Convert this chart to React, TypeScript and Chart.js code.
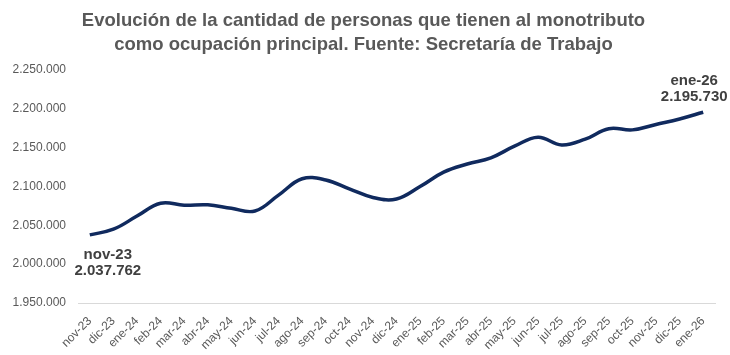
import React, { useEffect, useRef } from "react";
import { Chart, registerables } from "chart.js";

Chart.register(...registerables);

const categories = [
  "nov-23", "dic-23", "ene-24", "feb-24", "mar-24", "abr-24", "may-24", "jun-24",
  "jul-24", "ago-24", "sep-24", "oct-24", "nov-24", "dic-24", "ene-25", "feb-25",
  "mar-25", "abr-25", "may-25", "jun-25", "jul-25", "ago-25", "sep-25", "oct-25",
  "nov-25", "dic-25", "ene-26",
];

const personas = [
  2037762, 2045000, 2062000, 2078500, 2076000, 2076500, 2072000, 2068500,
  2089000, 2110000, 2108500, 2097000, 2086000, 2084000, 2100000, 2118500,
  2129000, 2137000, 2152000, 2163500, 2153500, 2161000, 2174500, 2173000,
  2180000, 2187000, 2195730,
];

const titleLines = [
  "Evolución de la cantidad de personas que tienen al monotributo",
  "como ocupación principal. Fuente: Secretaría de Trabajo",
];

const yMin = 1950000;
const yMax = 2250000;
const yStep = 50000;

const fmt = (v: number) => Math.round(v).toString().replace(/\B(?=(\d{3})+(?!\d))/g, ".");

const endLabels = {
  id: "endLabels",
  afterDatasetsDraw(chart: any) {
    const meta = chart.getDatasetMeta(0);
    const ctx = chart.ctx;
    const first = meta.data[0];
    const last = meta.data[meta.data.length - 1];
    ctx.save();
    ctx.fillStyle = "#404040";
    ctx.font = "bold 15px 'Liberation Sans', Arial, sans-serif";
    ctx.textAlign = "center";
    ctx.textBaseline = "middle";
    ctx.fillText(categories[0], first.x + 18, first.y + 20);
    ctx.fillText(fmt(personas[0]), first.x + 18, first.y + 36);
    const li = categories.length - 1;
    ctx.fillText(categories[li], last.x - 9, last.y - 31);
    ctx.fillText(fmt(personas[li]), last.x - 9, last.y - 15);
    ctx.restore();
  },
};

export default function App() {
  const ref = useRef<HTMLCanvasElement | null>(null);
  useEffect(() => {
    document.body.style.margin = "0";
    document.body.style.background = "#ffffff";
    if (!ref.current) return;
    const chart = new Chart(ref.current, {
      type: "line",
      data: {
        labels: categories,
        datasets: [
          {
            data: personas,
            borderColor: "#102a5e",
            borderWidth: 3.5,
            pointRadius: 0,
            tension: 0.4,
            fill: false,
          },
        ],
      },
      options: {
        animation: false,
        responsive: false,
        maintainAspectRatio: false,
        layout: { padding: { left: 12, right: 15, top: 0, bottom: 0 } },
        plugins: {
          legend: { display: false },
          tooltip: { enabled: false },
          title: {
            display: true,
            text: titleLines,
            color: "#595959",
            font: { family: "'Liberation Sans', Arial, sans-serif", size: 18.5, weight: "bold", lineHeight: 1.3 },
            padding: { top: 9, bottom: 13 },
          },
        },
        scales: {
          x: {
            offset: true,
            grid: { display: false, drawTicks: false },
            border: { display: true, color: "#d9d9d9", width: 1 },
            ticks: {
              color: "#595959",
              font: { family: "'Liberation Sans', Arial, sans-serif", size: 12 },
              maxRotation: 45,
              minRotation: 45,
              autoSkip: false,
              padding: 11,
            },
            afterFit: (s: any) => { s.height = 52; },
          },
          y: {
            min: yMin,
            max: yMax,
            grid: { display: false, drawTicks: false },
            border: { display: false },
            ticks: {
              stepSize: yStep,
              color: "#595959",
              font: { family: "'Liberation Sans', Arial, sans-serif", size: 12 },
              padding: 12,
              callback: (v: any) => fmt(Number(v)),
            },
            afterFit: (s: any) => { s.width = 66; },
          },
        },
      },
      plugins: [endLabels],
    });
    return () => chart.destroy();
  }, []);
  return (
    <div style={{ width: 730, height: 355 }}>
      <canvas ref={ref} width={730} height={355} style={{ display: "block" }} />
    </div>
  );
}
